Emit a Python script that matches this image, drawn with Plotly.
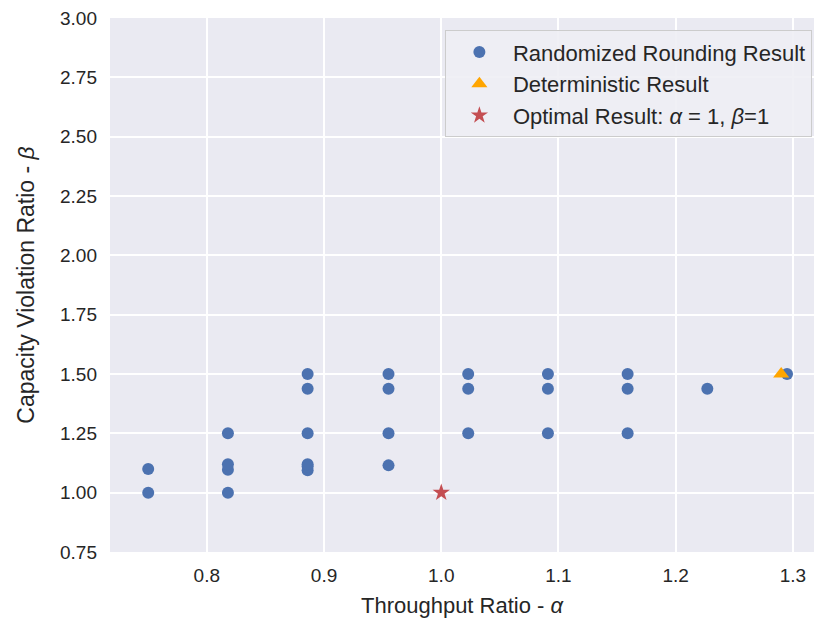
import plotly.graph_objects as go

# Randomized rounding results
rand_x = [0.75, 0.75,
          0.818, 0.818, 0.818, 0.818,
          0.886, 0.886, 0.886, 0.886, 0.886, 0.886,
          0.955, 0.955, 0.955, 0.955,
          1.023, 1.023, 1.023,
          1.091, 1.091, 1.091,
          1.159, 1.159, 1.159,
          1.227,
          1.295]
rand_y = [1.0, 1.1,
          1.0, 1.097, 1.12, 1.25,
          1.094, 1.11, 1.12, 1.25, 1.4375, 1.5,
          1.115, 1.25, 1.4375, 1.5,
          1.25, 1.4375, 1.5,
          1.25, 1.4375, 1.5,
          1.25, 1.4375, 1.5,
          1.4375,
          1.5]
det_x = [1.29]
det_y = [1.5]
opt_x = [1.0]
opt_y = [1.0]

x_ticks = [0.8, 0.9, 1.0, 1.1, 1.2, 1.3]
y_ticks = [0.75, 1.0, 1.25, 1.5, 1.75, 2.0, 2.25, 2.5, 2.75, 3.0]

fig = go.Figure()
fig.add_trace(go.Scatter(x=rand_x, y=rand_y, mode="markers",
                         name="Randomized Rounding Result",
                         marker=dict(color="#4C72B0", size=12, symbol="circle")))
fig.add_trace(go.Scatter(x=det_x, y=det_y, mode="markers",
                         name="Deterministic Result",
                         marker=dict(color="#FFA500", size=14, symbol="triangle-up")))
fig.add_trace(go.Scatter(x=opt_x, y=opt_y, mode="markers",
                         name="Optimal Result: <i>α</i> = 1, <i>β</i>=1",
                         marker=dict(color="#C44E52", size=13, symbol="star")))

fig.update_layout(
    width=814, height=628,
    margin=dict(l=110, r=0, t=18, b=76),
    paper_bgcolor="white",
    plot_bgcolor="#EAEAF2",
    font=dict(family="Liberation Sans, Arial, sans-serif", color="#262626", size=19),
    legend=dict(x=0.997, xanchor="right", y=0.977, yanchor="top",
                bgcolor="rgba(238,238,244,0.9)", bordercolor="#CCCCCC", borderwidth=1,
                font=dict(size=22, color="#262626"), itemwidth=57, tracegroupgap=2),
    showlegend=True,
)
fig.update_xaxes(range=[0.7174, 1.318], tickvals=x_ticks, ticktext=["0.8", "0.9", "1.0", "1.1", "1.2", "1.3"],
                 showgrid=True, gridcolor="white", gridwidth=1.5, zeroline=False,
                 ticks="", ticklabelstandoff=10, showline=False,
                 title=dict(text="Throughput Ratio - <i>α</i>", font=dict(size=22), standoff=12))
fig.update_yaxes(range=[0.75, 3.0], tickvals=y_ticks, ticktext=[f"{v:.2f}" for v in y_ticks],
                 showgrid=True, gridcolor="white", gridwidth=1.5, zeroline=False,
                 ticks="", ticklabelstandoff=12, showline=False,
                 title=dict(text="Capacity Violation Ratio - <i>β</i>", font=dict(size=23), standoff=18))

fig.write_html("out.html")
